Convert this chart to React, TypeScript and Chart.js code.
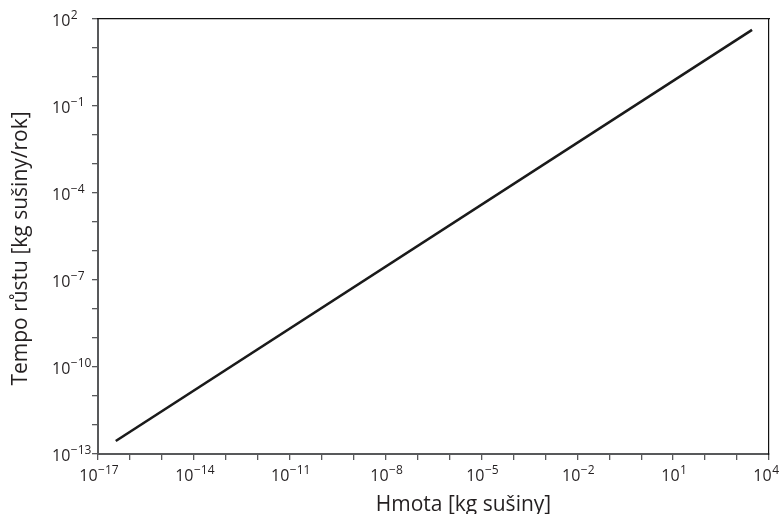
import React, { useEffect, useRef } from "react";
import { Chart, registerables } from "chart.js";

Chart.register(...registerables);

// Data (log-log straight line)
const massValues = [3.6e-17, 2950];
const rateValues = [2.8e-13, 42];

// Decade tick exponents
const xExponents = [-17, -16, -15, -14, -13, -12, -11, -10, -9, -8, -7, -6, -5, -4, -3, -2, -1, 0, 1, 2, 3, 4];
const yExponents = [-13, -12, -11, -10, -9, -8, -7, -6, -5, -4, -3, -2, -1, 0, 1, 2];
const xLabelled = [-17, -14, -11, -8, -5, -2, 1, 4];
const yLabelled = [-13, -10, -7, -4, -1, 2];

const xTitle = "Hmota [kg sušiny]";
const yTitle = "Tempo růstu [kg sušiny/rok]";

const FONT = "'Open Sans', 'DejaVu Sans', sans-serif";
const TEXT = "#231f20";
const AXIS = "#58595b";
const BASE_SIZE = 16;
const EXP_SIZE = 12;
const TITLE_SIZE = 21;

const expText = (e: number) => (e < 0 ? "\u2212" + Math.abs(e) : String(e));

// Draws "10" with a raised exponent, and the two axis titles
const labelPlugin = {
  id: "powerLabels",
  afterDraw(chart: any) {
    const ctx = chart.ctx as CanvasRenderingContext2D;
    const xs = chart.scales.x;
    const ys = chart.scales.y;
    const area = chart.chartArea;
    ctx.save();
    ctx.fillStyle = TEXT;
    ctx.textBaseline = "alphabetic";
    const measure = (e: number) => {
      ctx.font = `${BASE_SIZE}px ${FONT}`;
      const wb = ctx.measureText("10").width;
      ctx.font = `${EXP_SIZE}px ${FONT}`;
      const we = ctx.measureText(expText(e)).width;
      return { wb, we, total: wb + we + 0.5 };
    };
    const draw = (e: number, left: number, baseline: number) => {
      const { wb } = measure(e);
      ctx.textAlign = "left";
      ctx.font = `${BASE_SIZE}px ${FONT}`;
      ctx.fillText("10", left, baseline);
      ctx.font = `${EXP_SIZE}px ${FONT}`;
      ctx.fillText(expText(e), left + wb + 0.5, baseline - 7.5);
    };
    // x tick labels
    for (const e of xLabelled) {
      const px = xs.getPixelForValue(Math.pow(10, e));
      const { total } = measure(e);
      const left = Math.min(px - total / 2 + 1, chart.width - 2 - total);
      draw(e, left, area.bottom + 27);
    }
    // y tick labels (left-aligned column)
    for (const e of yLabelled) {
      const py = ys.getPixelForValue(Math.pow(10, e));
      draw(e, area.left - 46, py + 7);
    }
    // titles
    ctx.font = `${TITLE_SIZE}px ${FONT}`;
    ctx.textAlign = "center";
    ctx.fillText(xTitle, (area.left + area.right) / 2 + 30, 511);
    ctx.translate(27, (area.top + area.bottom) / 2 + 12);
    ctx.rotate(-Math.PI / 2);
    ctx.fillText(yTitle, 0, 0);
    ctx.restore();
  },
};

export default function App() {
  const ref = useRef<HTMLCanvasElement | null>(null);

  useEffect(() => {
    if (!ref.current) return;
    const chart = new Chart(ref.current, {
      type: "line",
      data: {
        datasets: [
          {
            data: massValues.map((x, i) => ({ x, y: rateValues[i] })),
            borderColor: "#1a1a1a",
            borderWidth: 2.6,
            pointRadius: 0,
            fill: false,
            tension: 0,
          },
        ],
      },
      options: {
        animation: false,
        responsive: false,
        events: [],
        layout: { padding: { left: 0, right: 12, top: 19, bottom: 0 } },
        plugins: { legend: { display: false }, tooltip: { enabled: false } },
        scales: {
          x: {
            type: "logarithmic",
            position: "bottom",
            min: 1e-17,
            max: 1e4,
            afterBuildTicks: (s: any) => {
              s.ticks = xExponents.map((e) => ({ value: Math.pow(10, e) }));
            },
            afterFit: (s: any) => {
              s.height = 60;
            },
            ticks: { autoSkip: false, maxRotation: 0, callback: () => "" },
            grid: { drawOnChartArea: false, drawTicks: true, tickLength: 6, color: AXIS, lineWidth: 1.3 },
            border: { display: true, color: AXIS, width: 2 },
          },
          y: {
            type: "logarithmic",
            position: "left",
            min: 1e-13,
            max: 1e2,
            afterBuildTicks: (s: any) => {
              s.ticks = yExponents.map((e) => ({ value: Math.pow(10, e) }));
            },
            afterFit: (s: any) => {
              s.width = 98;
            },
            ticks: { autoSkip: false, callback: () => "" },
            grid: { drawOnChartArea: false, drawTicks: true, tickLength: 6, color: AXIS, lineWidth: 1.3 },
            border: { display: true, color: AXIS, width: 2 },
          },
          xTop: {
            type: "linear",
            position: "top",
            min: 0,
            max: 1,
            afterFit: (s: any) => {
              s.height = 0;
            },
            ticks: { display: false },
            grid: { display: false },
            border: { display: true, color: "#111", width: 1.2 },
          },
          yRight: {
            type: "linear",
            position: "right",
            min: 0,
            max: 1,
            afterFit: (s: any) => {
              s.width = 0;
            },
            ticks: { display: false },
            grid: { display: false },
            border: { display: true, color: "#111", width: 1.2 },
          },
        },
      } as any,
      plugins: [labelPlugin],
    });
    return () => chart.destroy();
  }, []);

  return (
    <div style={{ position: "fixed", left: 0, top: 0, width: 781, height: 514, background: "#fff" }}>
      <canvas ref={ref} width={781} height={514} />
    </div>
  );
}
